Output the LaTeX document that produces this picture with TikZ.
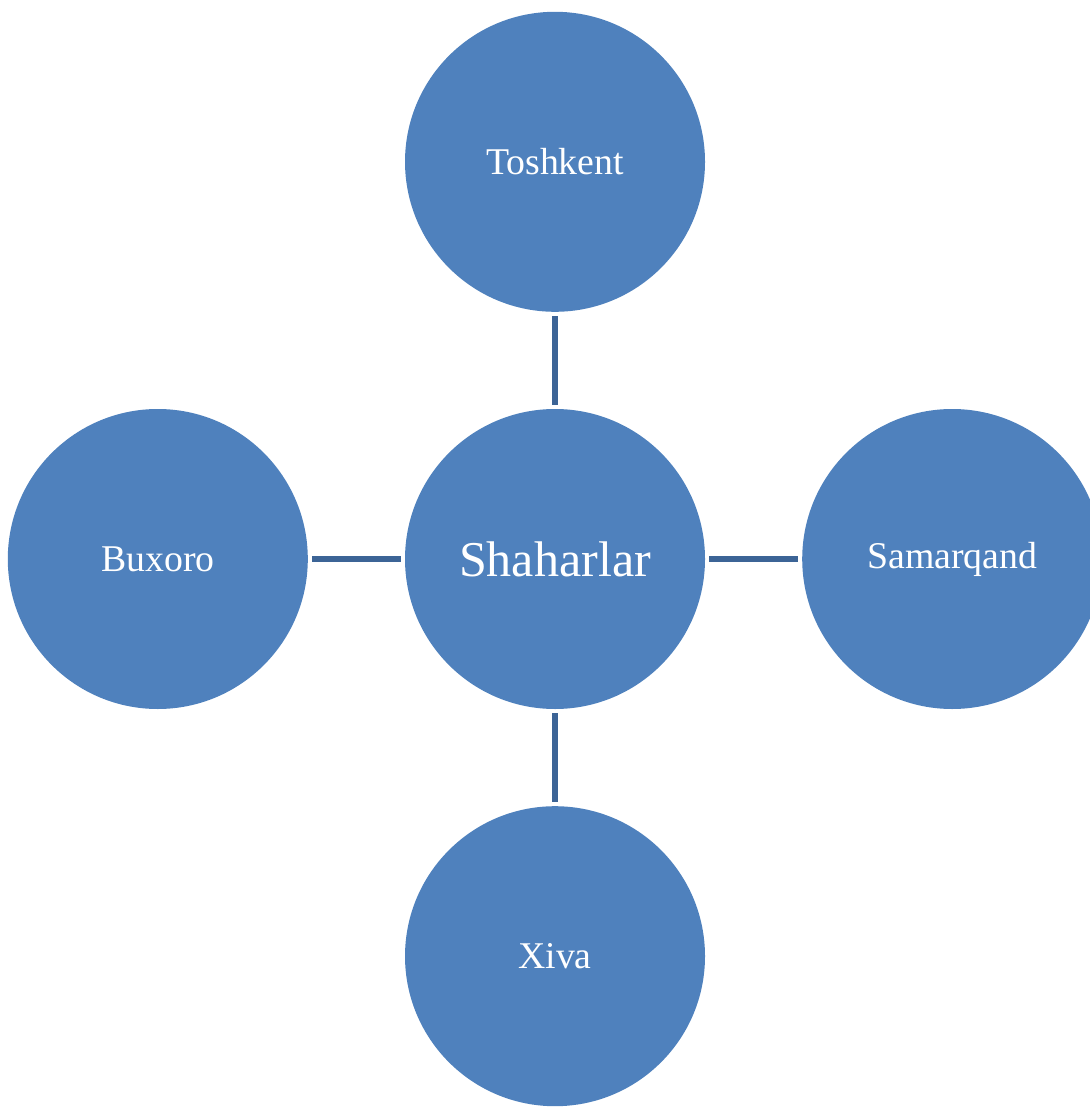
\documentclass[tikz,border=0pt]{standalone}
\usepackage{fontspec}
\setmainfont{Liberation Serif}
\usetikzlibrary{positioning}

\definecolor{cityblue}{HTML}{4F81BD}
\definecolor{linkblue}{HTML}{3C6496}

\begin{document}
\begin{tikzpicture}[
        city/.style={circle, fill=cityblue, text=white, minimum size=6cm, inner sep=0pt, font=\fontsize{21.5}{24}\selectfont},
        link/.style={linkblue, line width=0.11cm, shorten >=0.08cm, shorten <=0.08cm},
        node distance=1.93cm]
        \useasboundingbox (0,0) rectangle (21.78,-22.18);
        \node[city, font=\fontsize{28.5}{32}\selectfont] (center) at (11.1,-11.18) {Shaharlar};
        \node[city, above=of center] (toshkent) {Toshkent};
        \node[city, below=of center] (xiva) {Xiva};
        \node[city, left=of center] (buxoro) {Buxoro};
        \node[city, right=of center] (samarqand) {Samarqand};
        \draw[link] (toshkent) -- (center);
        \draw[link] (center) -- (xiva);
        \draw[link] (buxoro) -- (center);
        \draw[link] (center) -- (samarqand);
    \end{tikzpicture}
\end{document}
